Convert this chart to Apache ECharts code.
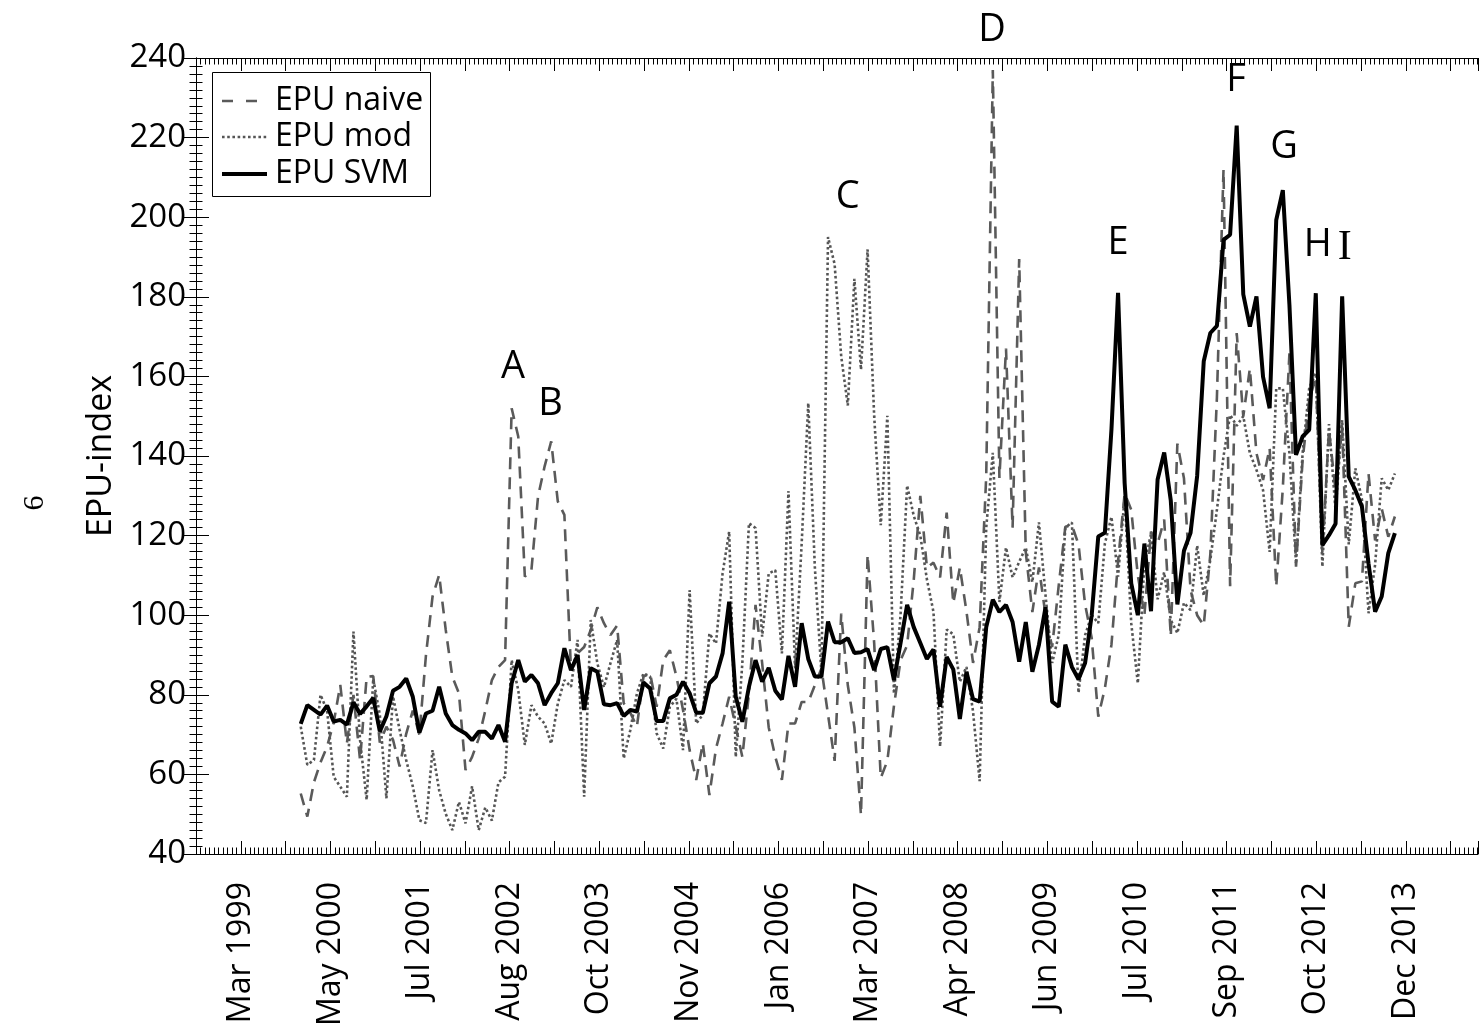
<!DOCTYPE html>
<html>
<head>
<meta charset="utf-8">
<script src="https://cdn.jsdelivr.net/npm/echarts@6/dist/echarts.min.js"></script>
<style>
html,body{margin:0;padding:0;background:#fff;}
#chart{width:1479px;height:1030px;}
</style>
</head>
<body>
<div id="chart"></div>
<script>
// ---- Data (monthly, Jan 2000 .. Nov 2013) ----
const firstMonth = '2000-01';
const epuNaive = [
  55.2, 49.4, 58, 63, 67, 73, 82.5, 67.8, 80, 63.6,
  84.5, 84.7, 68, 72, 68.7, 62, 70.2, 76, 70, 90,
  104.7, 110.1, 96.3, 84.5, 80.4, 61.1, 64.4, 69, 76, 83.7,
  87, 88.7, 152, 144.9, 109.7, 111.4, 129.8, 137.4, 143.7, 128.6,
  125.2, 86.2, 90.4, 92, 96.3, 102, 98, 95, 97.4, 77.9,
  75.5, 72, 84.6, 85.4, 77, 88.7, 91.2, 84.6, 76.2, 66.1,
  58.6, 67.8, 54.8, 66.5, 72.8, 79.5, 72, 64.4, 80.3, 102.6,
  88, 71.8, 64.4, 58.6, 72.8, 72.8, 78.2, 78.2, 82.4, 86.6,
  75, 63.4, 100.4, 82.4, 71.8, 49.8, 115.2, 93, 59.1, 63.4,
  77.2, 88.7, 92.4, 108.8, 130, 112, 113.2, 109.5, 125.8, 103,
  112, 101, 88, 97, 135, 237, 134.5, 167, 122, 189.5,
  115.8, 100.8, 112, 100, 92, 107.5, 122.2, 122.6, 117.8, 102.7,
  94.3, 74.5, 81.6, 92.6, 113.5, 130.6, 126.5, 110, 100, 121,
  118, 124, 94.7, 143.1, 134.4, 106.3, 100, 97.4, 115.3, 154.8,
  212, 107.3, 170.9, 150, 162, 140.7, 134, 142, 107.2, 132,
  165.8, 112.2, 139, 154, 159.9, 115.6, 146.5, 131.4, 147.4, 97.1,
  108, 108.5, 135.6, 118.8, 126.8, 119.7, 124.8
];
const epuMod = [
  72, 62.4, 63.6, 80, 76, 59.4, 56.9, 54.4, 95.9, 68.6,
  53.6, 84, 75, 54, 79.6, 71.2, 63.6, 57, 48.5, 47.8,
  66.1, 56, 50.1, 46, 53.1, 47.7, 57, 46, 51.7, 48.4,
  58, 59.4, 88.7, 81.2, 67.4, 77.4, 74.5, 72.8, 67.7, 77.8,
  83.7, 82, 93.8, 54.4, 98.8, 87.9, 81.9, 88, 93.8, 64,
  71.1, 80.3, 85.4, 84.6, 70.3, 66.5, 77, 79, 66.1, 106.3,
  72.8, 75, 95.4, 92.9, 110.5, 121, 64.4, 88, 123.1, 121.9,
  94.6, 110.5, 111.3, 90.4, 131.2, 86.6, 118, 153.3, 112, 85.5,
  195, 188.2, 165, 152.7, 184.5, 161.7, 191.9, 150, 122.6, 150.1,
  80.3, 100, 132.6, 125, 120, 109, 100.8, 67, 96.4, 95.2,
  83.3, 87, 75.8, 58.3, 122, 140.8, 103.3, 117, 109.5, 113.4,
  117, 108.3, 123.3, 105, 88, 95, 122, 123.3, 80.5, 95,
  100, 98, 118, 124.7, 109.7, 129.8, 98, 82.9, 113, 120.4,
  104, 110.8, 98.8, 95.5, 103.1, 101.3, 117.5, 104.9, 113.9, 126.5,
  139.9, 150.3, 147.6, 150, 140.7, 136.5, 131.4, 115.9, 157, 157,
  140.7, 113, 140.7, 157, 160.8, 112.2, 148, 126.2, 149, 117.8,
  136.9, 129.1, 100.5, 112.7, 134.4, 131.4, 135.6
];
const epuSVM = [
  72.7, 77.4, 76.2, 75.0, 77.3, 73.3, 73.7, 72.5, 78.1, 75.2,
  77.1, 79.2, 70.8, 74.6, 81.0, 82.0, 84.1, 79.5, 70.5, 75.3,
  76.0, 82.0, 75.3, 72.4, 71.2, 70.3, 68.6, 70.7, 70.7, 69.0,
  72.4, 68.2, 82.9, 88.7, 83.3, 85.0, 82.9, 77.4, 80.4, 82.9,
  91.7, 86.2, 90.0, 76.2, 86.7, 85.8, 77.6, 77.4, 77.9, 74.7,
  76.2, 75.8, 83.1, 81.6, 73.4, 73.4, 79.1, 80.0, 83.3, 80.4,
  75.5, 75.5, 82.9, 84.6, 90.4, 103.4, 79.5, 73.2, 82.0, 88.7,
  83.3, 86.8, 81.0, 78.8, 89.8, 82.0, 98.0, 89.0, 84.6, 84.6,
  98.4, 93.2, 93.2, 94.2, 90.5, 90.7, 91.5, 86.2, 91.5, 92.0,
  83.7, 93.0, 102.6, 97.0, 93.0, 89.0, 91.4, 77.0, 89.5, 86.4,
  73.9, 85.8, 78.9, 78.3, 97.0, 103.9, 100.8, 102.6, 98.3, 88.3,
  98.3, 85.8, 92.6, 102.0, 78.3, 77.0, 92.6, 87.0, 83.9, 88.0,
  100.0, 119.8, 120.7, 146.7, 181.0, 133.2, 108.0, 100.0, 118.0, 101.0,
  134.1, 140.9, 128.8, 102.7, 116.2, 120.7, 135.0, 163.8, 170.9, 172.7,
  194.3, 195.6, 223.0, 180.6, 172.5, 180.1, 159.9, 152.0, 199.3, 206.8,
  178.0, 140.3, 144.9, 146.6, 180.9, 117.6, 120.1, 123.0, 180.1, 134.8,
  131.4, 127.3, 113.0, 100.9, 104.7, 115.6, 120.6
];
// x tick labels (every second major tick)
const xTickLabels = ['Mar 1999','May 2000','Jul 2001','Aug 2002','Oct 2003','Nov 2004','Jan 2006',
  'Mar 2007','Apr 2008','Jun 2009','Jul 2010','Sep 2011','Oct 2012','Dec 2013'];
const yTicks = [40, 60, 80, 100, 120, 140, 160, 180, 200, 220, 240];
const seriesNames = ['EPU naive', 'EPU mod', 'EPU SVM'];
// event annotations: letter, month index (0 = Jan 2000), index level
const annoLetters = ['A','B','C','D','E','F','G','H','I'];
const annoMonth   = [32.2, 37.9, 83.0, 104.9, 124.0, 141.9, 149.2, 154.3, 158.4];
const annoLevel   = [162.4, 153.1, 205.1, 247.0, 193.5, 234.5, 217.6, 193.0, 192.3];

// ---- axis geometry (in months) ----
const X_OFFSET = 15.89;   // months from axis start to first observation
const X_MAX = 194.5;      // axis span in months
const TICK = 6.798;       // months per major tick
const FONT = 'Open Sans';

const STYLE = {
  naive: {color: '#5a5a5a', width: 2.6, dash: [12, 8], legendDash: [11, 13]},
  mod:   {color: '#555', width: 2.6, dash: [2.6, 2.6], legendDash: [2.6, 2.6]},
  svm:   {color: '#000', width: 4}
};

const toXY = arr => arr.map((v, i) => [X_OFFSET + i, v]);

const chart = echarts.init(document.getElementById('chart'), null, {renderer: 'canvas'});

function xLabelFmt(v) {
  const k = Math.round(v / TICK);
  if (Math.abs(v - k * TICK) > 1e-3) return '';
  if (k % 2 === 1) {
    const j = (k - 1) / 2;
    return xTickLabels[j] || '';
  }
  return '';
}

const blackLine = {show: true, lineStyle: {color: '#000', width: 1}};
const majorTick = {show: true, inside: true, length: 13, lineStyle: {color: '#000', width: 1}};
const minorTickX = {show: true, inside: true, length: 6.5, lineStyle: {color: '#000', width: 1}};

function xAxisDef(position, interval, isMajor, withLabels) {
  return {
    type: 'value', position: position, min: 0, max: X_MAX, interval: interval,
    axisLine: isMajor ? blackLine : {show: false},
    axisTick: isMajor ? majorTick : minorTickX,
    axisLabel: withLabels ? {
      show: true, rotate: 90, margin: 28, formatter: xLabelFmt,
      fontFamily: FONT, fontSize: 32, color: '#000'
    } : {show: false},
    splitLine: {show: false}, minorTick: {show: false}
  };
}

// legend drawn as graphic elements (box, line samples, text)
const LG = {x: 212, y: 72, w: 218, h: 124, lineX0: 222, lineX1: 267, textX: 275, rows: [101, 137, 174]};
const legendGraphic = [
  {type: 'rect', id: 'lgbox', z: 100, shape: {x: LG.x + 0.5, y: LG.y + 0.5, width: LG.w, height: LG.h},
   style: {fill: '#fff', stroke: '#000', lineWidth: 1}},
  {type: 'line', id: 'lg0', z: 101, shape: {x1: LG.lineX0, y1: LG.rows[0], x2: LG.lineX1, y2: LG.rows[0]},
   style: {stroke: STYLE.naive.color, lineWidth: STYLE.naive.width, lineDash: STYLE.naive.legendDash}},
  {type: 'line', id: 'lg1', z: 101, shape: {x1: LG.lineX0, y1: LG.rows[1], x2: LG.lineX1, y2: LG.rows[1]},
   style: {stroke: STYLE.mod.color, lineWidth: STYLE.mod.width, lineDash: STYLE.mod.legendDash}},
  {type: 'line', id: 'lg2', z: 101, shape: {x1: LG.lineX0, y1: LG.rows[2], x2: LG.lineX1, y2: LG.rows[2]},
   style: {stroke: STYLE.svm.color, lineWidth: STYLE.svm.width}}
].concat(seriesNames.map((n, i) => ({
  type: 'text', id: 'lgt' + i, z: 101, x: LG.textX, y: LG.rows[i],
  style: {text: n, fontSize: 32, fontFamily: FONT, fill: '#000', align: 'left', verticalAlign: 'middle'}
})));

const pageNumber = {
  type: 'text', id: 'pagenum', x: 35, y: 503, rotation: Math.PI / 2,
  style: {text: '6', fontSize: 30, fontFamily: 'Liberation Serif', fill: '#000', align: 'center', verticalAlign: 'middle'}
};

const option = {
  backgroundColor: '#fff',
  animation: false,
  grid: {left: 196, right: 1, top: 58, bottom: 176, containLabel: false},
  xAxis: [
    xAxisDef('bottom', TICK, true, true),
    xAxisDef('bottom', TICK / 10, false, false),
    xAxisDef('top', TICK, true, false),
    xAxisDef('top', TICK / 10, false, false)
  ],
  yAxis: [
    {
      type: 'value', position: 'left', min: yTicks[0], max: yTicks[yTicks.length - 1], interval: 20,
      axisLine: blackLine, axisTick: majorTick,
      minorTick: {show: true, splitNumber: 10, length: 6.5, lineStyle: {color: '#000', width: 1}},
      axisLabel: {fontFamily: FONT, fontSize: 33, color: '#000', margin: 10},
      splitLine: {show: false},
      name: 'EPU-index', nameLocation: 'middle', nameGap: 68,
      nameTextStyle: {fontFamily: FONT, fontSize: 34, color: '#000'}
    },
    {
      type: 'value', position: 'right', min: yTicks[0], max: yTicks[yTicks.length - 1], interval: 20,
      axisLine: blackLine, axisTick: majorTick,
      minorTick: {show: true, splitNumber: 10, length: 6.5, lineStyle: {color: '#000', width: 1}},
      axisLabel: {show: false}, splitLine: {show: false}
    }
  ],
  series: [
    {
      name: seriesNames[0], type: 'line', data: toXY(epuNaive), symbol: 'none', showSymbol: false,
      lineStyle: {color: STYLE.naive.color, width: STYLE.naive.width, type: STYLE.naive.dash},
      z: 2, silent: true
    },
    {
      name: seriesNames[1], type: 'line', data: toXY(epuMod), symbol: 'none', showSymbol: false,
      lineStyle: {color: STYLE.mod.color, width: STYLE.mod.width, type: STYLE.mod.dash},
      z: 3, silent: true
    },
    {
      name: seriesNames[2], type: 'line', data: toXY(epuSVM), symbol: 'none', showSymbol: false,
      lineStyle: {color: STYLE.svm.color, width: STYLE.svm.width},
      z: 4, silent: true
    }
  ],
  graphic: legendGraphic.concat([pageNumber])
};
chart.setOption(option);

// event letters placed through the chart's own coordinate conversion
const letterGraphics = annoLetters.map((l, i) => {
  const p = chart.convertToPixel({seriesIndex: 2}, [X_OFFSET + annoMonth[i], annoLevel[i]]);
  return {
    type: 'text', id: 'anno' + i, x: p[0], y: p[1], z: 50,
    style: {text: l, fontSize: l === 'I' ? 42 : 38, fontFamily: l === 'I' ? 'Liberation Serif' : FONT,
            fill: '#000', align: 'center', verticalAlign: 'middle'}
  };
});
chart.setOption({graphic: legendGraphic.concat([pageNumber], letterGraphics)});
</script>
</body>
</html>
